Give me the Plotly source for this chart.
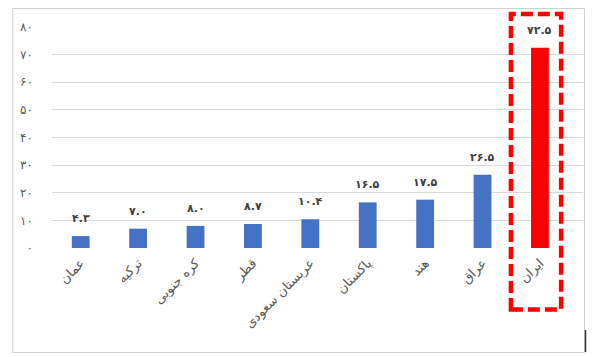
import plotly.graph_objects as go

# ---- data ----
countries = ["عمان", "ترکیه", "کره جنوبی", "قطر", "عربستان سعودی", "پاکستان", "هند", "عراق", "ایران"]
values = [4.3, 7.0, 8.0, 8.7, 10.4, 16.5, 17.5, 26.5, 72.5]
bar_colors = ["#4472C4"] * 8 + ["#FF0000"]
y_tickvals = [0, 10, 20, 30, 40, 50, 60, 70, 80]
y_ticktext = ["۰", "۱۰", "۲۰", "۳۰", "۴۰", "۵۰", "۶۰", "۷۰", "۸۰"]

FA_DIGITS = str.maketrans("0123456789", "۰۱۲۳۴۵۶۷۸۹")


def fa(v):
    return f"{v:.1f}".translate(FA_DIGITS)


labels = [fa(v) for v in values]

# page has an 8px body margin: work in page pixels, convert to figure pixels
OFF = 8
W, H = 604 - OFF, 357 - OFF
# plot area in page pixels
PL, PR, PT, PB = 49, 583, 27, 248
L, T = PL - OFF, PT - OFF
R, B = W - (PR - OFF), H - (PB - OFF)
pw, ph = PR - PL, PB - PT


def px_x(x):
    return (x - PL) / pw


def px_y(y):
    return (PB - y) / ph


fig = go.Figure()
fig.add_trace(go.Bar(
    x=list(range(len(countries))),
    y=values,
    marker=dict(color=bar_colors, line=dict(width=0)),
    width=0.31,
    hoverinfo="skip",
))

annotations = [
    dict(x=i, y=v, xref="x", yref="y", text=f"<b>{t}</b>", showarrow=False,
         yanchor="bottom", yshift=9,
         font=dict(family="DejaVu Sans", size=11, color="#404040"))
    for i, (v, t) in enumerate(zip(values, labels))
]

shapes = [
    # outer frame
    dict(type="rect", xref="paper", yref="paper",
         x0=px_x(9.5), x1=px_x(584.5), y0=px_y(352.5), y1=px_y(8.5),
         line=dict(color="#d0d0d0", width=1), fillcolor="rgba(0,0,0,0)", layer="below"),
    # red dashed highlight box
    dict(type="rect", xref="paper", yref="paper",
         x0=px_x(510.5), x1=px_x(561), y0=px_y(309.5), y1=px_y(14),
         line=dict(color="#FF0000", width=4.5, dash="12px,5px"), fillcolor="rgba(0,0,0,0)"),
    # small dark mark at right edge
    dict(type="line", xref="paper", yref="paper",
         x0=px_x(585.5), x1=px_x(585.5), y0=px_y(352), y1=px_y(330),
         line=dict(color="#333333", width=1.5)),
]

fig.update_layout(
    width=W, height=H,
    margin=dict(l=L, r=R, t=T, b=B, pad=0),
    paper_bgcolor="white", plot_bgcolor="white",
    showlegend=False,
    font=dict(family="DejaVu Sans", color="#595959"),
    shapes=shapes,
    annotations=annotations,
)
fig.update_xaxes(
    tickmode="array", tickvals=list(range(len(countries))), ticktext=countries,
    range=[-0.5, 8.75], tickangle=-45,
    tickfont=dict(family="DejaVu Sans", size=13, color="#595959"),
    showgrid=False, showline=False, ticks="", zeroline=False,
    ticklabelstandoff=4,
)
fig.update_yaxes(
    range=[0, 80], tickmode="array", tickvals=y_tickvals, ticktext=y_ticktext,
    tickfont=dict(family="DejaVu Sans", size=12, color="#595959"),
    showgrid=True, gridcolor="#d9d9d9", gridwidth=1,
    zeroline=False, showline=False, ticks="", ticklabelstandoff=18,
)

fig.write_html("out.html")
